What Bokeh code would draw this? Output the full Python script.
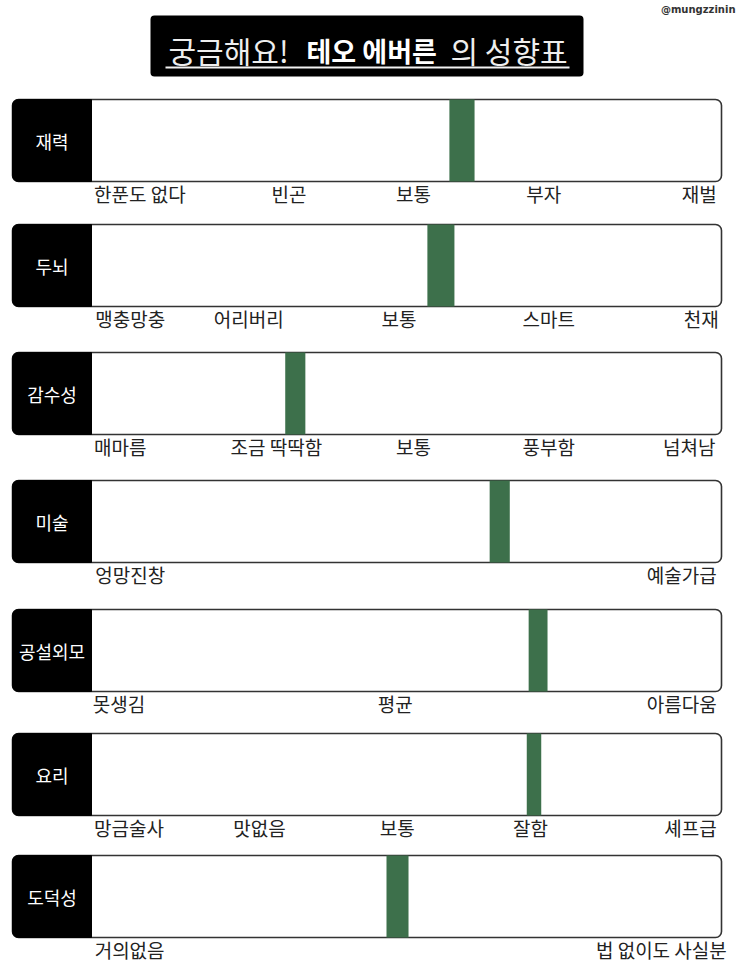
from bokeh.plotting import figure
from bokeh.models import Range1d, BoxAnnotation, ColumnDataSource
from bokeh.core.properties import value
from bokeh.embed import file_html
from bokeh.resources import INLINE

# ---------------- data ----------------
categories = ["재력", "두뇌", "감수성", "미술", "공설외모", "요리", "도덕성"]
score_low = [56.9, 53.4, 30.8, 63.3, 69.5, 69.2, 46.9]
score_high = [60.9, 57.7, 34.0, 66.5, 72.5, 71.5, 50.4]
scale_labels = [
    ["한푼도 없다", "빈곤", "보통", "부자", "재벌"],
    ["맹충망충", "어리버리", "보통", "스마트", "천재"],
    ["매마름", "조금 딱딱함", "보통", "풍부함", "넘쳐남"],
    ["엉망진창", "예술가급"],
    ["못생김", "평균", "아름다움"],
    ["망금술사", "맛없음", "보통", "잘함", "셰프급"],
    ["거의없음", "법 없이도 사실분"],
]
scale_label_pos = [
    [0.4, 31.4, 51.2, 71.9, 99.4],
    [0.6, 25.0, 48.9, 72.7, 99.7],
    [0.4, 29.4, 51.2, 72.7, 99.2],
    [0.6, 99.4],
    [0.2, 48.3, 99.4],
    [0.4, 26.7, 48.6, 69.8, 99.4],
    [0.5, 101.0],
]
title_parts = ["궁금해요!", "테오 에버른", "의 성향표"]
watermark = "@mungzzinin"

# ---------------- layout (image pixel space) ----------------
FIG_W, FIG_H = 736, 969
PAGE_M = 0
TRACK_L, TRACK_R = 91, 720
BOX_L, BOX_R = 12, 721
ROW_TOP = [99, 224, 352, 480, 609, 733, 855]
ROW_H = 82
PX = (TRACK_R - TRACK_L) / 100.0
FONT = "Noto Sans CJK KR"
GREEN = "#3d704b"


def px2v(x):
    return (x - TRACK_L) / PX


p = figure(width=FIG_W, height=FIG_H, output_backend="svg", toolbar_location=None,
           x_range=Range1d(px2v(PAGE_M), px2v(PAGE_M + FIG_W)),
           y_range=Range1d(PAGE_M + FIG_H, PAGE_M),
           min_border=0, outline_line_color=None, background_fill_color="white",
           border_fill_color="white")
p.axis.visible = False
p.grid.visible = False

# title box
p.add_layout(BoxAnnotation(left=px2v(150), right=px2v(583), top=15, bottom=76,
                           fill_color="black", fill_alpha=1, line_color=None,
                           border_radius=4, level="underlay"))
p.add_layout(BoxAnnotation(left=px2v(165), right=px2v(569), top=66, bottom=68,
                           fill_color="#f2f2f2", fill_alpha=1, line_color=None,
                           level="underlay"))
p.text(x=[px2v(168)], y=[49], text=[title_parts[0]], text_font=value(FONT),
       text_font_size="30px", text_color="#eeeeee", text_baseline="middle", text_align="left")
p.text(x=[px2v(306)], y=[50], text=[title_parts[1]], text_font=value(FONT),
       text_font_size="27px", text_font_style="bold", text_color="white",
       text_baseline="middle", text_align="left")
p.text(x=[px2v(450)], y=[49], text=[title_parts[2]], text_font=value(FONT),
       text_font_size="30px", text_color="#eeeeee", text_baseline="middle", text_align="left")
p.text(x=[px2v(735)], y=[9], text=[watermark], text_font=value("DejaVu Sans"),
       text_font_size="10px", text_font_style="bold", text_color="#333333",
       text_baseline="middle", text_align="right")

# row frames
for top in ROW_TOP:
    p.add_layout(BoxAnnotation(left=px2v(BOX_L), right=px2v(BOX_R), top=top, bottom=top + ROW_H,
                               fill_color="white", fill_alpha=1, line_color="#333333",
                               line_alpha=1, line_width=1.6, border_radius=6, level="underlay"))
    p.add_layout(BoxAnnotation(left=px2v(BOX_L), right=px2v(TRACK_L), top=top, bottom=top + ROW_H,
                               fill_color="black", fill_alpha=1, line_color="black",
                               line_alpha=1, line_width=1, border_radius=(6, 0, 0, 6),
                               level="underlay"))

# markers
bars = ColumnDataSource(dict(
    left=score_low, right=score_high,
    top=[t for t in ROW_TOP[:len(categories)]],
    bottom=[t + ROW_H for t in ROW_TOP[:len(categories)]],
))
p.quad(left="left", right="right", top="top", bottom="bottom", source=bars,
       fill_color=GREEN, line_color=None)

# category names
cat_src = ColumnDataSource(dict(
    x=[px2v((BOX_L + TRACK_L) / 2)] * len(categories),
    y=[t + ROW_H / 2 for t in ROW_TOP[:len(categories)]],
    text=categories,
))
p.text(x="x", y="y", text="text", source=cat_src, text_font=value(FONT),
       text_font_size="18px", text_color="white", text_align="center", text_baseline="middle")

# scale labels
groups = {"left": dict(x=[], y=[], text=[]),
          "center": dict(x=[], y=[], text=[]),
          "right": dict(x=[], y=[], text=[])}
for i, (labs, poss) in enumerate(zip(scale_labels, scale_label_pos)):
    for j, (lab, pos) in enumerate(zip(labs, poss)):
        key = "left" if j == 0 else ("right" if j == len(labs) - 1 else "center")
        groups[key]["x"].append(pos)
        groups[key]["y"].append(ROW_TOP[i] + ROW_H + 12)
        groups[key]["text"].append(lab)
for key, d in groups.items():
    p.text(x="x", y="y", text="text", source=ColumnDataSource(d), text_font=value(FONT),
           text_font_size="19px", text_color="#222222", text_align=key, text_baseline="middle")

open("out.html", "w").write(file_html(p, INLINE))
